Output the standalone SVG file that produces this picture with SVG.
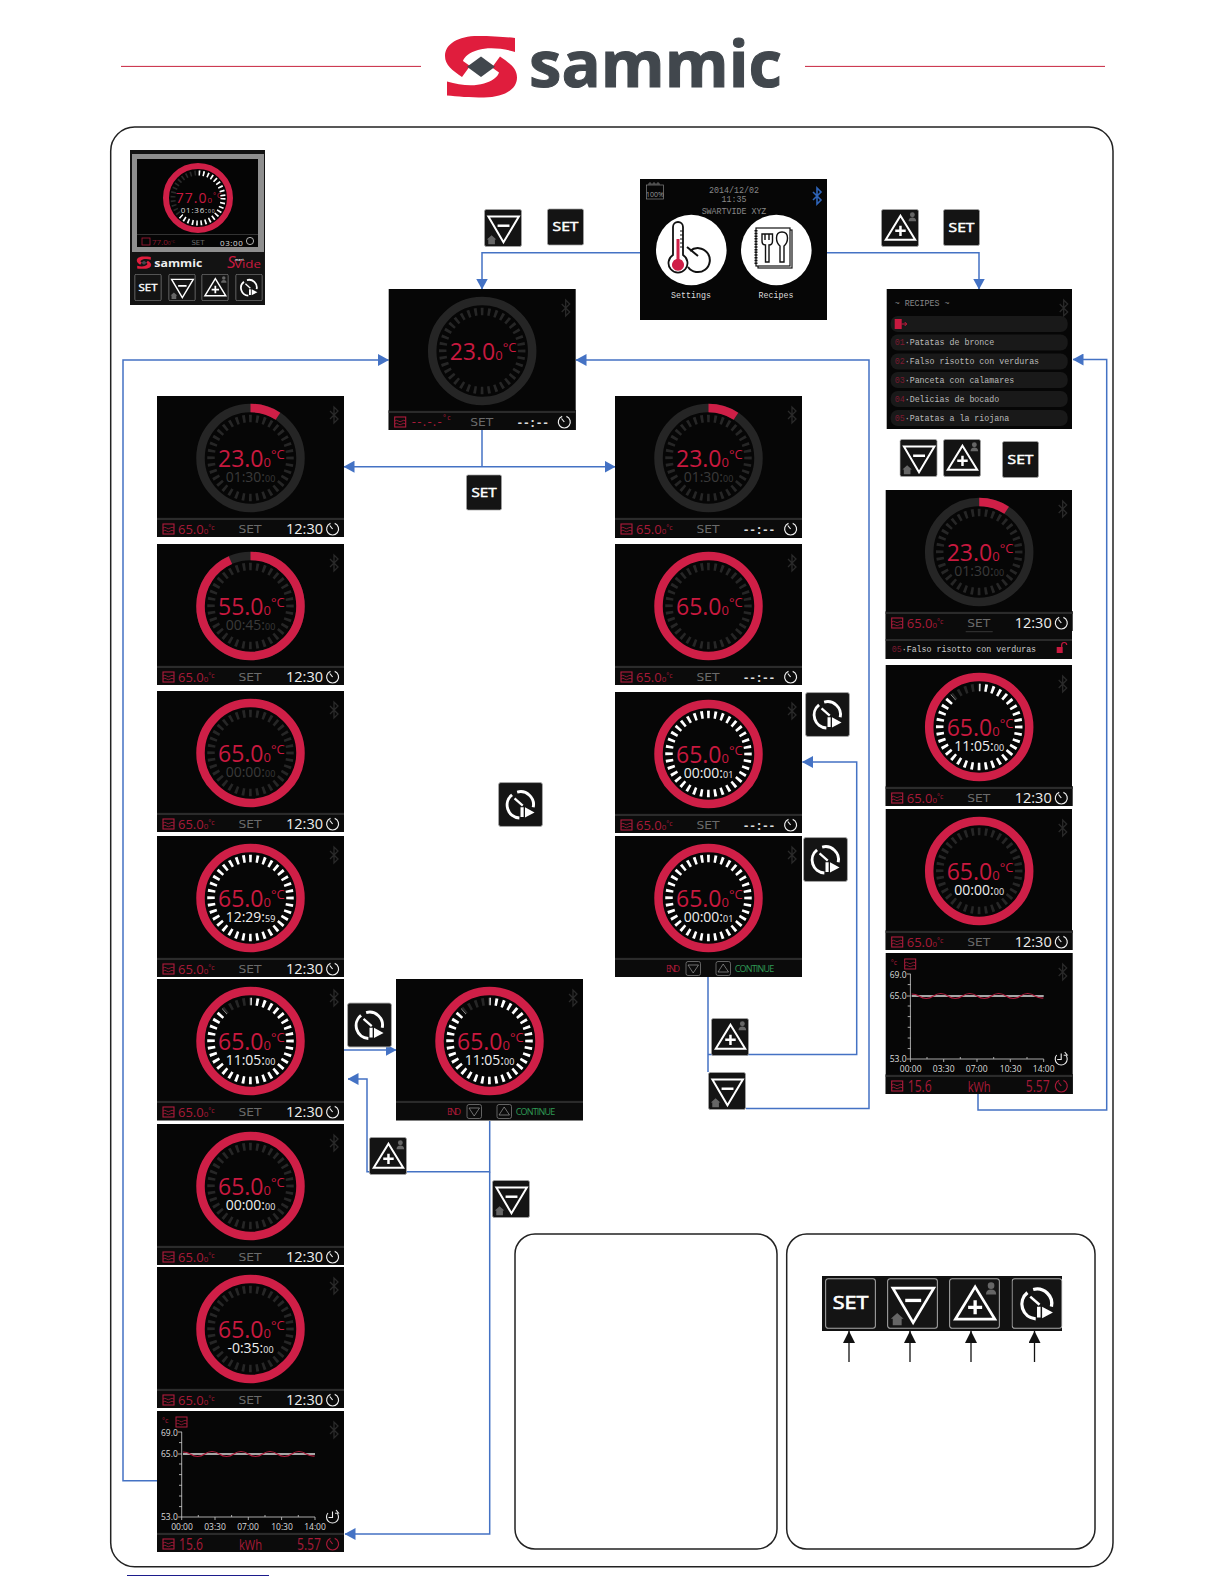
<svg xmlns="http://www.w3.org/2000/svg" width="1224" height="1584" viewBox="0 0 1224 1584">
<style>
text{font-family:"Open Sans","Liberation Sans",sans-serif}
.scr{fill:#060606}
.tmp{font-size:23px;fill:#c8193f}
.s0{font-size:13px}
.deg{font-size:13px}
.tm{font-size:14px;fill:#eee;text-anchor:middle}
.tm.dim{fill:#3a3a3a}
.tms{font-size:9px}
.bt{font-size:13px;fill:#a81a38}
.bs{font-size:8px}
.bd{font-size:7px}
.clk{font-size:14.500px;fill:#eee}
.dash{font-size:13px;fill:#ddd;letter-spacing:2.400px;font-weight:700}
.set{font-family:"DejaVu Sans",sans-serif;font-size:10px;fill:#6a6a6a;text-anchor:middle}
.mono{font-family:"Liberation Mono",monospace;font-size:8.3px}
.ax{font-size:8.5px;fill:#ddd}
.conn{fill:none;stroke:#4472c4;stroke-width:1.5}
.bbg{fill:#141414;stroke:#a8a8a8;stroke-width:.8}
.bln{fill:none;stroke:#fff;stroke-width:2.1}
.box{fill:#fff;stroke:#222;stroke-width:1.5}
</style>
<defs>
<marker id="ah" markerUnits="userSpaceOnUse" markerWidth="11" markerHeight="12" refX="10.5" refY="6" orient="auto"><path d="M0,0 L11,6 L0,12z" fill="#4472c4"/></marker>
<marker id="ak" markerUnits="userSpaceOnUse" markerWidth="12" markerHeight="12" refX="12" refY="6" orient="auto"><path d="M0,0 L12,6 L0,12z" fill="#111"/></marker>
<clipPath id="wedge"><path d="M0,0 L-54,-62 L-94,-62 L-94,80 L94,80 L94,-62 L0,-62z"/></clipPath>
<clipPath id="wedge2"><path d="M0,0 L0,-39 L62,-39 L62,40 L-39,40z"/></clipPath>
<g id="mark">
<path fill="#e01d3d" d="M515,38 L515,52 C502,48 488,47 478,50 C470,52 464,57 463,61 L470,66 L462,77 C452,70 445,65 445,56 C445,44 458,36 478,36 C492,36 505,37 515,38Z"/>
<path fill="#e01d3d" d="M447,95.4 L447,81.4 C460,85.4 474,86.4 484,83.4 C492,81.4 498,76.4 499,72.4 L492,67.4 L500,56.4 C510,63.4 517,68.4 517,77.4 C517,89.4 504,97.4 484,97.4 C470,97.4 457,96.4 447,95.4Z"/>
<path fill="#41474d" d="M467,66.7 L481,56.5 L495,66.7 L481,77z"/>
</g>
<path id="bth" d="M173,15 L181,23 L177,27 L177,11 L181,15 L173,23" fill="none" stroke="#2a2a2a" stroke-width="1.3"/>
<g id="wave"><rect x="6" y="128" width="11" height="10" fill="none" stroke="#b01c3c" stroke-width="1.1"/><path d="M6,132 q1.8,-1.5 3.6,0 t3.6,0 t3.8,0 M6,135 q1.8,-1.5 3.6,0 t3.6,0 t3.8,0" fill="none" stroke="#b01c3c" stroke-width=".8"/></g>
<g id="clock"><path d="M173.500,127.400 A6,6 0 1 0 177.700,127.400 M175.600,133 L172.800,129.500" fill="none" stroke="#eee" stroke-width="1.2"/></g>
<g id="clockr"><path d="M173.500,127.400 A6,6 0 1 0 177.700,127.400 M175.600,133 L172.800,129.500" fill="none" stroke="#a81a38" stroke-width="1.2"/></g>
<g id="barbg"><rect y="121" width="187" height="20" fill="#0b0b0b"/><rect y="122" width="187" height="2" fill="#2b2b2b"/></g>
<g id="bar"><use href="#barbg"/><use href="#wave"/><text class="set" x="93" y="137" textLength="23" lengthAdjust="spacingAndGlyphs">SET</text><use href="#clock"/></g>
<g id="t65b"><text class="bt" x="21" y="138">65.0<tspan class="bs">0</tspan><tspan class="bd" dy="-4">°c</tspan></text></g>
<g id="t1230"><text class="clk" x="129" y="138">12:30</text></g>
<g id="tdash"><text class="dash" x="129" y="138">--:--</text></g>
<g id="barend"><use href="#barbg"/><text x="51" y="135.700" font-size="9" fill="#a81a38" font-family="Liberation Mono,monospace" textLength="14">END</text><rect x="71" y="125.500" width="14.500" height="14" rx="2" fill="none" stroke="#888" stroke-width=".7"/><path d="M73,129 L83.500,129 L78.200,137z" fill="none" stroke="#999" stroke-width=".7"/><rect x="101" y="125.500" width="14.500" height="14" rx="2" fill="none" stroke="#888" stroke-width=".7"/><path d="M103,136 L113.500,136 L108.200,128z" fill="none" stroke="#999" stroke-width=".7"/><text x="119.700" y="135.700" font-size="9" font-family="Liberation Mono,monospace" fill="#2f9a55" textLength="39.500">CONTINUE</text></g>
<circle id="tks" cx="93.5" cy="62" r="39.5" fill="none" stroke-width="7.5" stroke-dasharray="2.7 4.194" transform="rotate(-92 93.5 62)"/>
<g id="rd"><circle cx="93.5" cy="62" r="50" fill="none" stroke="#252525" stroke-width="8.5"/><use href="#tks" stroke="#262626"/></g>
<g id="rr"><use href="#tks" stroke="#262626"/><circle cx="93.5" cy="62" r="50" fill="none" stroke="#cf1f47" stroke-width="8.5"/></g>
<g id="rw"><circle cx="93.5" cy="62" r="50" fill="none" stroke="#cf1f47" stroke-width="8.5"/><use href="#tks" stroke="#fff"/></g>
<g id="rp"><circle cx="93.5" cy="62" r="50" fill="none" stroke="#cf1f47" stroke-width="8.5"/><use href="#tks" stroke="#262626"/><g transform="translate(93.5,62)"><g clip-path="url(#wedge)"><use href="#tks" stroke="#fff" transform="translate(-93.5,-62)"/></g></g></g>
<circle id="arc" cx="93.5" cy="62" r="50" fill="none" stroke="#cf1f47" stroke-width="8.5" stroke-dasharray="29 400" transform="rotate(-90 93.5 62)"/>
<g id="graph">
<rect class="scr" width="187" height="141"/><use href="#bth"/>
<text x="5" y="12" font-size="7" fill="#a81a38">°c</text><rect x="19" y="6" width="11" height="10" fill="none" stroke="#b01c3c" stroke-width="1"/><path d="M19,10 q1.8,-1.5 3.6,0 t3.6,0 t3.8,0 M19,13 q1.8,-1.5 3.6,0 t3.6,0 t3.8,0" fill="none" stroke="#b01c3c" stroke-width=".7"/>
<path d="M24.7,21 V106 H158 M21,21 H25 M22,31.6 H25 M21,43 H25 M22,53 H25 M22,63.6 H25 M22,74.3 H25 M22,85 H25 M22,95.6 H25 M21,106 H25 M24.7,106 v3 M41.3,106 v-2 M58,106 v3 M74.6,106 v-2 M91.3,106 v3 M108,106 v-2 M124.6,106 v3 M141.3,106 v-2 M158,106 v3" fill="none" stroke="#bbb" stroke-width=".9"/>
<path d="M26,43 H158" stroke="#ddd" stroke-width="1.4"/>
<path d="M26,41 Q30,41 33.25,43 M33.25,43 q7.25,5 14.5,0 t14.5,0 t14.5,0 t14.5,0 t14.5,0 t14.5,0 t14.5,0 t14.5,0 q4,2.4 8.5,2" fill="none" stroke="#b01c3c" stroke-width="1.2"/>
<text class="ax" x="4" y="25">69.0</text><text class="ax" x="4" y="46">65.0</text><text class="ax" x="4" y="109">53.0</text>
<g text-anchor="middle"><text class="ax" x="25" y="119">00:00</text><text class="ax" x="58" y="119">03:30</text><text class="ax" x="91" y="119">07:00</text><text class="ax" x="125" y="119">10:30</text><text class="ax" x="158" y="119">14:00</text></g>
<path d="M171,102 a6,6 0 1 0 9,0 M175.500,100.500 V106.500 H171.500 M179,99 l2.500,3 l-3.500,.3" fill="none" stroke="#eee" stroke-width="1.1"/>
<use href="#barbg"/><use href="#wave"/><text x="22" y="139" font-size="16" fill="#a81a38" textLength="24" lengthAdjust="spacingAndGlyphs">15.6</text><text x="82" y="139" font-size="15" fill="#a81a38" textLength="23" lengthAdjust="spacingAndGlyphs">kWh</text><text x="140" y="139" font-size="16" fill="#a81a38" textLength="24" lengthAdjust="spacingAndGlyphs">5.57</text><use href="#clockr"/>
</g>
<symbol id="btSet" viewBox="0 0 40 40"><rect class="bbg" x=".5" y=".5" width="39" height="39" rx="2"/><text x="20" y="24.5" font-family="DejaVu Sans,sans-serif" font-weight="400" stroke="#fff" stroke-width=".5" font-size="13.500" fill="#fff" text-anchor="middle" textLength="28" lengthAdjust="spacingAndGlyphs">SET</text></symbol>
<symbol id="btMin" viewBox="0 0 40 40"><rect class="bbg" x=".5" y=".5" width="39" height="39" rx="2"/><path class="bln" d="M4.6,8 H36.7 L20.5,35z"/><path d="M14.3,17.6 H26.8" stroke="#fff" stroke-width="2.6"/><path d="M3,32 L8,27.5 L13,32 H11.5 V37 H4.5 V32z" fill="#666"/></symbol>
<symbol id="btPlu" viewBox="0 0 40 40"><rect class="bbg" x=".5" y=".5" width="39" height="39" rx="2"/><path class="bln" d="M20.5,7 L36,32.3 H5z"/><path d="M15,23 H26 M20.5,17.5 V28.5" stroke="#fff" stroke-width="2.6"/><circle cx="33" cy="6" r="2.6" fill="#666"/><path d="M29,13 q0,-4 4,-4 t4,4z" fill="#666"/></symbol>
<symbol id="btPly" viewBox="0 0 40 40"><rect class="bbg" x=".5" y=".5" width="39" height="39" rx="2"/><path class="bln" style="stroke-width:2.600" d="M17,9 A11.500,11.500 0 0 1 31.300,22.500 M12.500,11.500 A11.500,11.500 0 0 0 19,32"/><path d="M14.7,14.6 L22,21" stroke="#fff" stroke-width="2"/><path d="M20,22.5 h2.8 v8.5 h-2.8z M24,22.5 L32.500,27 L24,31.5z" fill="#fff"/></symbol>
</defs>
<rect width="1224" height="1584" fill="#fff"/>

<g id="header">
<path d="M121,66.4 H421 M805,66.4 H1105" stroke="#c8243f" stroke-width="1"/>
<use href="#mark"/>
<text x="529" y="87" font-family="DejaVu Sans,sans-serif" font-weight="700" font-size="64" fill="#41474d" stroke="#41474d" stroke-width="1" textLength="253" lengthAdjust="spacingAndGlyphs">sammic</text>
</g>
<rect id="frame" class="box" x="110.7" y="127" width="1002.3" height="1439.7" rx="24"/>
<rect id="legend-left" class="box" x="515" y="1234" width="262" height="315" rx="20"/>
<rect id="legend-right" class="box" x="786.7" y="1234" width="308.3" height="315" rx="20"/>
<path id="underline" d="M127,1575.500 H269" stroke="#1c1c8c" stroke-width="1.200"/>

<g id="connectors">
<path class="conn" marker-end="url(#ah)" d="M640,252.7 H482 V289"/>
<path class="conn" marker-end="url(#ah)" d="M827,252.7 H979 V289"/>
<path class="conn" marker-end="url(#ah)" d="M157,1480.7 H123 V360 H388.5"/>
<path class="conn" marker-end="url(#ah)" d="M746,1108.5 H869 V360 H576"/>
<path class="conn" d="M482,430 V466.7"/>
<path class="conn" marker-end="url(#ah)" d="M482,466.7 H344"/>
<path class="conn" marker-end="url(#ah)" d="M482,466.7 H615"/>
<path class="conn" d="M708,977 V1072"/>
<path class="conn" marker-end="url(#ah)" d="M708,1054.5 H856.7 V762 H802.5"/>
<path class="conn" marker-end="url(#ah)" d="M978,1094 V1110 H1106.7 V359.5 H1073"/>
<path class="conn" marker-end="url(#ah)" d="M344,1050 H396"/>
<path class="conn" marker-end="url(#ah)" d="M489.7,1121 V1171.7 H367 V1079 H348"/>
<path class="conn" marker-end="url(#ah)" d="M489.7,1171.7 V1534 H345"/>
<path stroke="#111" stroke-width="1.3" marker-end="url(#ak)" fill="none" d="M849,1362 V1331"/>
<path stroke="#111" stroke-width="1.3" marker-end="url(#ak)" fill="none" d="M910,1362 V1331"/>
<path stroke="#111" stroke-width="1.3" marker-end="url(#ak)" fill="none" d="M971,1362 V1331"/>
<path stroke="#111" stroke-width="1.3" marker-end="url(#ak)" fill="none" d="M1034.5,1362 V1331"/>
</g>

<g id="panel" transform="translate(130,150)">
<rect width="135" height="155" fill="#131313"/>
<rect x="2" y="4" width="132" height="98" fill="#8f8f8f"/>
<rect x="7" y="9" width="121" height="88" fill="#050505"/>
<circle cx="68" cy="48" r="25" fill="none" stroke="#2a2a2a" stroke-width="5" stroke-dasharray="1.6 2.76"/>
<g transform="translate(68,48)"><g clip-path="url(#wedge2)"><circle r="25" fill="none" stroke="#fff" stroke-width="5" stroke-dasharray="1.6 2.76"/></g></g>
<circle cx="68" cy="48" r="32" fill="none" stroke="#cf1f47" stroke-width="6"/>
<text x="45.700" y="53" font-size="14" fill="#c8193f" letter-spacing="1">77.0<tspan font-size="8">0</tspan><tspan font-size="7" dy="-5">°C</tspan></text>
<text x="50.700" y="62.700" font-size="8" fill="#ddd" letter-spacing=".8">01:36:<tspan font-size="5">00</tspan></text>
<rect x="7" y="84" width="121" height="1" fill="#333"/>
<rect x="12" y="88" width="8" height="7" fill="none" stroke="#a81a38" stroke-width=".8"/>
<text x="22" y="95" font-size="8" fill="#8c1a30">77.0<tspan font-size="5">0</tspan><tspan font-size="4" dy="-2">°C</tspan></text>
<text class="set" x="68" y="95" style="font-size:7px">SET</text>
<text x="90" y="95.5" font-size="8" fill="#ddd" letter-spacing=".6">03:00</text>
<circle cx="120" cy="91" r="3.6" fill="none" stroke="#ddd" stroke-width=".8"/>
<use href="#mark" transform="translate(14,112.7) scale(.2) translate(-481,-66.7)"/>
<text x="24.3" y="117" font-family="DejaVu Sans,sans-serif" font-weight="700" font-size="10" fill="#eee" textLength="48" lengthAdjust="spacingAndGlyphs">sammic</text>
<text x="97" y="118" font-size="17" font-style="italic" fill="#c8193f">S</text>
<text x="105" y="110.5" font-size="3.5" font-weight="700" fill="#ddd">mart</text>
<text x="104" y="118" font-size="10" fill="#c8193f" textLength="27" lengthAdjust="spacingAndGlyphs">Vide</text>
<use href="#btSet" x="4" y="124" width="28" height="27"/>
<use href="#btMin" x="38" y="124" width="28" height="27"/>
<use href="#btPlu" x="71" y="124" width="28" height="27"/>
<use href="#btPly" x="105" y="124" width="28" height="27"/>
</g>

<g id="home" transform="translate(640,179)">
<rect class="scr" width="187" height="141"/>
<rect x="6.5" y="6" width="17" height="14" fill="none" stroke="#888" stroke-width=".7"/><path d="M9,6 v-2 h2 v2 M13,6 v-2 h2 v2 M17,6 v-2 h2 v2" fill="none" stroke="#888" stroke-width=".7"/>
<text x="15" y="18" font-size="7" fill="#999" text-anchor="middle">100%</text>
<path d="M174,13 L182,21 L178,25 L178,9 L182,13 L174,21" fill="none" stroke="#2f64b8" stroke-width="1.6" transform="translate(-1,0)"/>
<text class="mono" x="94" y="13.7" text-anchor="middle" fill="#888">2014/12/02</text><text class="mono" x="94" y="23" text-anchor="middle" fill="#888">11:35</text><text class="mono" x="94" y="35" text-anchor="middle" fill="#888">SWARTVIDE XYZ</text>
<circle cx="51.3" cy="71" r="35.3" fill="#fff"/>
<circle cx="136.3" cy="71" r="35.3" fill="#fff"/>
<path d="M33,48 a5,5 0 0 1 10,0 V76 a9.5,9.5 0 1 1 -10,0z" fill="none" stroke="#111" stroke-width="1.8"/>
<path d="M36.5,60 H39.5 V80 a6,6 0 1 1 -3,0z" fill="#cf1f47"/>
<path d="M43,52 h-3 M43,56 h-3 M43,60 h-3 M43,64 h-3 M43,68 h-3" stroke="#111" stroke-width="1"/>
<path d="M50,72 a12,12 0 1 1 -2,16 M47,68 L58,77" fill="none" stroke="#111" stroke-width="2"/>
<rect x="118" y="51" width="34" height="38" fill="#fff" stroke="#111" stroke-width="1.2"/><rect x="116" y="49" width="34" height="38" fill="#fff" stroke="#111" stroke-width="1.2"/>
<path d="M116,51 v34" stroke="#111" stroke-width="3" stroke-dasharray="1.5 1.2"/>
<path d="M122,55 V62 Q122,66 125.500,66 V83 H129 V66 Q132.500,66 132.500,62 V55z M125,55 V61 M129,55 V61" fill="none" stroke="#111" stroke-width="1.4"/>
<path d="M140,67 V83 H144 V67 Q147.500,64 147.500,59 Q147.500,53 142,53 Q136.500,53 136.500,59 Q136.500,64 140,67z" fill="none" stroke="#111" stroke-width="1.4"/>
<text class="mono" x="51" y="118.7" text-anchor="middle" fill="#ddd">Settings</text>
<text class="mono" x="136" y="118.7" text-anchor="middle" fill="#ddd">Recipes</text>
</g>

<g id="recipes" transform="translate(886.7,289)">
<rect class="scr" width="185.3" height="140"/><use href="#bth"/>
<text class="mono" x="8" y="17" fill="#888">~ RECIPES ~</text>
<g fill="#191919"><rect x="4" y="27" width="177" height="16" rx="7"/><rect x="4" y="45.500" width="177" height="16" rx="7"/><rect x="4" y="64.500" width="177" height="16" rx="7"/><rect x="4" y="83" width="177" height="16" rx="7"/><rect x="4" y="102" width="177" height="16" rx="7"/><rect x="4" y="121" width="177" height="16" rx="7"/></g>
<rect x="8" y="30" width="7" height="10" fill="#c8193f"/><path d="M15,35 H20 M18,33 l2,2 l-2,2" stroke="#c8193f" fill="none"/>
<g fill="#bbb"><text class="mono" x="8" y="56"><tspan fill="#7c1a30">01</tspan>·Patatas de bronce</text><text class="mono" x="8" y="75"><tspan fill="#7c1a30">02</tspan>·Falso risotto con verduras</text><text class="mono" x="8" y="94"><tspan fill="#7c1a30">03</tspan>·Panceta con calamares</text><text class="mono" x="8" y="113"><tspan fill="#7c1a30">04</tspan>·Delicias de bocado</text><text class="mono" x="8" y="132"><tspan fill="#7c1a30">05</tspan>·Patatas a la riojana</text></g>
</g>

<g id="main" transform="translate(388.700,289)">
<rect class="scr" width="187" height="141"/><use href="#bth"/><use href="#rd"/>
<text class="tmp" x="61" y="71">23.0<tspan class="s0">0</tspan><tspan class="deg" dy="-8">°C</tspan></text>
<use href="#bar"/><text x="23" y="137" font-size="13" fill="#a81a38" letter-spacing="1.300">--.-.-<tspan class="bd" dy="-6">°c</tspan></text><use href="#tdash"/>
</g>

<g id="L1" transform="translate(157,396)"><rect class="scr" width="187" height="141"/><use href="#bth"/><use href="#rd"/><use href="#arc"/>
<text class="tmp" x="61" y="71">23.0<tspan class="s0">0</tspan><tspan class="deg" dy="-8">°C</tspan></text><text class="tm dim" x="93.5" y="85.500">01:30:<tspan class="tms">00</tspan></text><use href="#bar"/><use href="#t65b"/><use href="#t1230"/></g>
<g id="L2" transform="translate(157,544)"><rect class="scr" width="187" height="141"/><use href="#bth"/><use href="#rd"/><circle cx="93.5" cy="62" r="50" fill="none" stroke="#cf1f47" stroke-width="8.5" stroke-dasharray="293 400" transform="rotate(-90 93.5 62)"/>
<text class="tmp" x="61" y="71">55.0<tspan class="s0">0</tspan><tspan class="deg" dy="-8">°C</tspan></text><text class="tm dim" x="93.5" y="85.500">00:45:<tspan class="tms">00</tspan></text><use href="#bar"/><use href="#t65b"/><use href="#t1230"/></g>
<g id="L3" transform="translate(157,691)"><rect class="scr" width="187" height="141"/><use href="#bth"/><use href="#rr"/>
<text class="tmp" x="61" y="71">65.0<tspan class="s0">0</tspan><tspan class="deg" dy="-8">°C</tspan></text><text class="tm dim" x="93.5" y="85.500">00:00:<tspan class="tms">00</tspan></text><use href="#bar"/><use href="#t65b"/><use href="#t1230"/></g>
<g id="L4" transform="translate(157,836)"><rect class="scr" width="187" height="141"/><use href="#bth"/><use href="#rw"/>
<text class="tmp" x="61" y="71">65.0<tspan class="s0">0</tspan><tspan class="deg" dy="-8">°C</tspan></text><text class="tm" x="93.5" y="85.500">12:29:<tspan class="tms">59</tspan></text><use href="#bar"/><use href="#t65b"/><use href="#t1230"/></g>
<g id="L5" transform="translate(157,979)"><rect class="scr" width="187" height="141.500"/><use href="#bth"/><use href="#rp"/>
<text class="tmp" x="61" y="71">65.0<tspan class="s0">0</tspan><tspan class="deg" dy="-8">°C</tspan></text><text class="tm" x="93.5" y="85.500">11:05:<tspan class="tms">00</tspan></text><use href="#bar"/><use href="#t65b"/><use href="#t1230"/></g>
<g id="L6" transform="translate(157,1124)"><rect class="scr" width="187" height="141"/><use href="#bth"/><use href="#rr"/>
<text class="tmp" x="61" y="71">65.0<tspan class="s0">0</tspan><tspan class="deg" dy="-8">°C</tspan></text><text class="tm" x="93.5" y="85.500">00:00:<tspan class="tms">00</tspan></text><use href="#bar"/><use href="#t65b"/><use href="#t1230"/></g>
<g id="L7" transform="translate(157,1267)"><rect class="scr" width="187" height="141"/><use href="#bth"/><use href="#rr"/>
<text class="tmp" x="61" y="71">65.0<tspan class="s0">0</tspan><tspan class="deg" dy="-8">°C</tspan></text><text class="tm" x="93.5" y="85.500">-0:35:<tspan class="tms">00</tspan></text><use href="#bar"/><use href="#t65b"/><use href="#t1230"/></g>
<g id="L8" transform="translate(157,1411)"><use href="#graph"/></g>

<g id="R1" transform="translate(615,396)"><rect class="scr" width="187" height="142"/><use href="#bth"/><use href="#rd"/><use href="#arc"/>
<text class="tmp" x="61" y="71">23.0<tspan class="s0">0</tspan><tspan class="deg" dy="-8">°C</tspan></text><text class="tm dim" x="93.5" y="85.500">01:30:<tspan class="tms">00</tspan></text><use href="#bar"/><use href="#t65b"/><use href="#tdash"/></g>
<g id="R2" transform="translate(615,544)"><rect class="scr" width="187" height="141"/><use href="#bth"/><use href="#rr"/>
<text class="tmp" x="61" y="71">65.0<tspan class="s0">0</tspan><tspan class="deg" dy="-8">°C</tspan></text><use href="#bar"/><use href="#t65b"/><use href="#tdash"/></g>
<g id="R3" transform="translate(615,692)"><rect class="scr" width="187" height="141"/><use href="#bth"/><use href="#rw"/>
<text class="tmp" x="61" y="71">65.0<tspan class="s0">0</tspan><tspan class="deg" dy="-8">°C</tspan></text><text class="tm" x="93.5" y="85.500">00:00:<tspan class="tms">01</tspan></text><use href="#bar"/><use href="#t65b"/><use href="#tdash"/></g>
<g id="R4" transform="translate(615,836)"><rect class="scr" width="187" height="141"/><use href="#bth"/><use href="#rw"/>
<text class="tmp" x="61" y="71">65.0<tspan class="s0">0</tspan><tspan class="deg" dy="-8">°C</tspan></text><text class="tm" x="93.5" y="85.500">00:00:<tspan class="tms">01</tspan></text><use href="#barend"/></g>

<g id="P" transform="translate(396,979)"><rect class="scr" width="187" height="141.500"/><use href="#bth"/><use href="#rp"/>
<text class="tmp" x="61" y="71">65.0<tspan class="s0">0</tspan><tspan class="deg" dy="-8">°C</tspan></text><text class="tm" x="93.5" y="85.500">11:05:<tspan class="tms">00</tspan></text><use href="#barend"/></g>

<g id="T1" transform="translate(885.7,490)"><rect class="scr" width="186.300" height="169"/><use href="#bth"/><use href="#rd"/><use href="#arc"/>
<text class="tmp" x="61" y="71">23.0<tspan class="s0">0</tspan><tspan class="deg" dy="-8">°C</tspan></text><text class="tm dim" x="93.5" y="85.500">01:30:<tspan class="tms">00</tspan></text><use href="#bar"/><use href="#t65b"/><use href="#t1230"/>
<rect y="141" width="186.300" height="28" fill="#0b0b0b"/><path d="M80,141.700 H107" stroke="#444" stroke-width=".8"/><rect y="149" width="186.300" height="2" fill="#2b2b2b"/>
<text class="mono" x="6" y="162" fill="#ccc"><tspan fill="#7c1a30">05</tspan>·Falso risotto con verduras</text>
<rect x="171" y="157" width="6" height="6" fill="#c8193f"/><path d="M176,157 v-2 a2.5,2.5 0 0 1 5,0" fill="none" stroke="#c8193f" stroke-width="1.2"/></g>
<g id="T2" transform="translate(885.7,665)"><rect class="scr" width="186.300" height="141"/><use href="#bth"/><use href="#rp"/>
<text class="tmp" x="61" y="71">65.0<tspan class="s0">0</tspan><tspan class="deg" dy="-8">°C</tspan></text><text class="tm" x="93.5" y="85.500">11:05:<tspan class="tms">00</tspan></text><use href="#bar"/><use href="#t65b"/><use href="#t1230"/></g>
<g id="T3" transform="translate(885.7,809)"><rect class="scr" width="186.300" height="141"/><use href="#bth"/><use href="#rr"/>
<text class="tmp" x="61" y="71">65.0<tspan class="s0">0</tspan><tspan class="deg" dy="-8">°C</tspan></text><text class="tm" x="93.5" y="85.500">00:00:<tspan class="tms">00</tspan></text><use href="#bar"/><use href="#t65b"/><use href="#t1230"/></g>
<g id="T4" transform="translate(885.7,953)"><use href="#graph"/></g>

<g id="buttons">
<use href="#btMin" x="484" y="209" width="38" height="38"/>
<use href="#btSet" x="547" y="208" width="37" height="38"/>
<use href="#btPlu" x="881" y="209" width="38" height="38"/>
<use href="#btSet" x="943" y="209" width="37" height="37"/>
<use href="#btMin" x="899.3" y="439" width="38.500" height="38"/>
<use href="#btPlu" x="943" y="439" width="38" height="38"/>
<use href="#btSet" x="1002" y="441" width="37" height="37"/>
<use href="#btSet" x="466" y="474" width="36" height="37"/>
<use href="#btPly" x="498" y="781" width="45" height="47"/>
<use href="#btPly" x="805" y="691" width="45" height="47"/>
<use href="#btPly" x="803" y="836" width="45" height="47"/>
<use href="#btPly" x="347" y="1002" width="45" height="46"/>
<use href="#btPlu" x="369" y="1137" width="38" height="38"/>
<use href="#btMin" x="492" y="1180" width="38" height="38"/>
<use href="#btPlu" x="711" y="1018" width="38" height="38"/>
<use href="#btMin" x="708" y="1072" width="38" height="38"/>
</g>
<g id="keystrip">
<rect x="822" y="1276" width="240" height="55" fill="#111"/>
<use href="#btSet" x="825" y="1278" width="51" height="51"/>
<use href="#btMin" x="887" y="1278" width="51" height="51"/>
<use href="#btPlu" x="949" y="1278" width="51" height="51"/>
<use href="#btPly" x="1011.500" y="1278" width="51" height="51"/>
</g>
</svg>
